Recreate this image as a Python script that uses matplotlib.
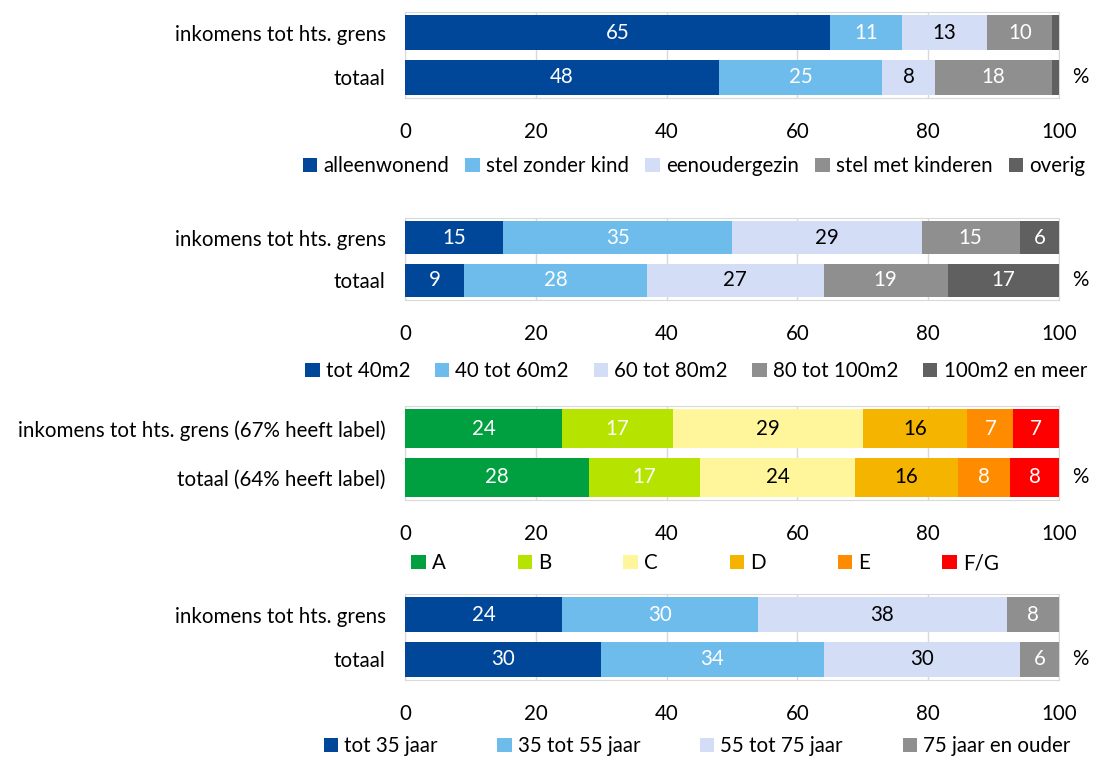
#!/usr/bin/env python3

import matplotlib.pyplot as plt
import numpy as np

plt.rcParams["font.family"] = ["Lato", "DejaVu Sans"]

rows = ["inkomens tot hts. grens", "totaal"]
rows_label = ["inkomens tot hts. grens (67% heeft label)", "totaal (64% heeft label)"]

huishouden_names = ["alleenwonend", "stel zonder kind", "eenoudergezin",
                    "stel met kinderen", "overig"]
huishouden = [[65, 11, 13, 10, 1],
              [48, 25, 8, 18, 1]]

opp_names = ["tot 40m2", "40 tot 60m2", "60 tot 80m2", "80 tot 100m2",
             "100m2 en meer"]
oppervlakte = [[15, 35, 29, 15, 6],
               [9, 28, 27, 19, 17]]

label_names = ["A", "B", "C", "D", "E", "F/G"]
energielabel = [[24, 17, 29, 16, 7, 7],
                [28.1, 17.0, 23.7, 15.8, 7.9, 7.5]]

leeftijd_names = ["tot 35 jaar", "35 tot 55 jaar", "55 tot 75 jaar",
                  "75 jaar en ouder"]
leeftijd = [[24, 30, 38, 8],
            [30, 34, 30, 6]]

blues = ["#00479A", "#6EBCEC", "#D3DEF6", "#8F8F8F", "#606060"]
blues_txt = ["white", "white", "black", "white", "white"]
energy = ["#00A040", "#B6E400", "#FFF59A", "#F5B400", "#FF8C00", "#FF0000"]
energy_txt = ["white", "white", "black", "black", "white", "white"]

FS = 14.8


def panel(fig, box, cats, names, data, colors, txtcols, leg_x, leg_y,
          colspace):
    W, H = 1098, 760
    top, bottom = box
    ax = fig.add_axes([405 / W, 1 - bottom / H, 654 / W, (bottom - top) / H])
    data = np.array(data, dtype=float)
    y = np.arange(len(cats))
    left = np.zeros(len(cats))
    for i, name in enumerate(names):
        vals = data[:, i]
        ax.barh(y, vals, left=left, height=0.78, color=colors[i], label=name,
                zorder=3)
        for j, v in enumerate(vals):
            if v >= 3:
                ax.text(left[j] + v / 2, y[j], "{}".format(int(round(v))),
                        ha="center", va="center", color=txtcols[i],
                        fontsize=FS, zorder=4)
        left += vals
    ax.set_xlim(0, 100)
    ax.set_ylim(1.46, -0.46)
    ax.set_yticks(y)
    ax.set_yticklabels(cats, fontsize=FS)
    ax.set_xticks([0, 20, 40, 60, 80, 100])
    ax.tick_params(length=0, labelsize=FS)
    ax.tick_params(axis="x", pad=17)
    ax.tick_params(axis="y", pad=14)
    ax.grid(True, axis="x", color="#D9D9D9", lw=1, zorder=0)
    for s in ax.spines.values():
        s.set_color("#D9D9D9")
    ax.text(1.02, 1, "%", transform=ax.get_yaxis_transform(), ha="left",
            va="center", fontsize=FS)
    handles, labels = ax.get_legend_handles_labels()
    fig.legend(handles, labels, loc="center",
               bbox_to_anchor=(leg_x / W, 1 - leg_y / H),
               ncol=len(names), frameon=False, fontsize=FS,
               handlelength=0.7, handleheight=0.7, handletextpad=0.3,
               columnspacing=colspace)
    return ax


def main():
    fig = plt.figure(figsize=(10.98, 7.6), dpi=100)
    panel(fig, (12, 98), rows, huishouden_names, huishouden, blues, blues_txt,
          694, 166, 0.8)
    panel(fig, (218, 300), rows, opp_names, oppervlakte, blues, blues_txt,
          696, 371, 1.2)
    panel(fig, (406, 500), rows_label, label_names, energielabel, energy,
          energy_txt, 705, 563, 3.5)
    panel(fig, (594, 680), rows, leeftijd_names, leeftijd, blues[:4],
          blues_txt[:4], 697, 746, 2.9)
    fig.savefig("out.png", dpi=100)


if __name__ == "__main__":
    main()
